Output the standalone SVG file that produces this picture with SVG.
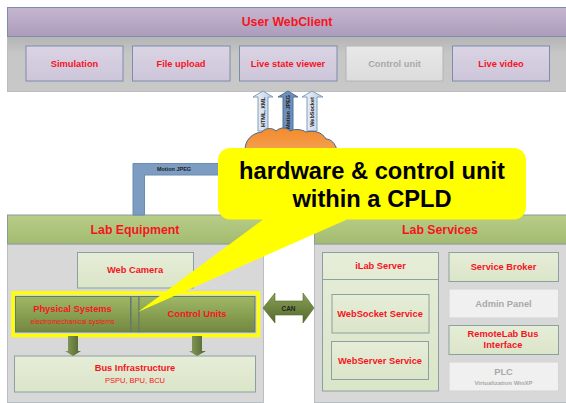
<svg xmlns="http://www.w3.org/2000/svg" width="566" height="403" viewBox="0 0 566 403">
<style>
text{font-family:"Liberation Sans",Arial,sans-serif;font-weight:bold;fill:#f5141e;text-anchor:middle}
.t{font-size:9.300px}.h{font-size:12.300px}.g{fill:#a9a9a9}.s{font-size:7px;font-weight:normal}
.p{fill:url(#pb);stroke:#7d8cab;stroke-width:1}.pg{fill:url(#gb);stroke:#b4b4b4;stroke-width:1}
.l{fill:url(#lg);stroke:#8ba0a0;stroke-width:1}.w{fill:#f0f0f0;stroke:#d4d4d4;stroke-width:1}
.d{fill:url(#dg);stroke:#5f7a70;stroke-width:1}
.hp{fill:url(#hg);stroke:#8b9aa0;stroke-width:1}
.a{fill:url(#ab);stroke:#7f9fbf;stroke-width:1}.m{fill:#6d8fb8;stroke:#4f719a;stroke-width:1}
.v{font-size:5.500px;fill:#222}
.ga{fill:url(#da);stroke:none}
</style>
<defs>
<linearGradient id="pu" x1="0" y1="0" x2="0" y2="1"><stop offset="0" stop-color="#c5b6d0"/><stop offset="1" stop-color="#ab9dbb"/></linearGradient>
<linearGradient id="gp" x1="0" y1="0" x2="0" y2="1"><stop offset="0" stop-color="#b4b4b4"/><stop offset=".3" stop-color="#c6c6c6"/><stop offset="1" stop-color="#c8c8c8"/></linearGradient>
<linearGradient id="pb" x1="0" y1="0" x2="0" y2="1"><stop offset="0" stop-color="#dbd4e4"/><stop offset="1" stop-color="#cdc5d9"/></linearGradient>
<linearGradient id="gb" x1="0" y1="0" x2="0" y2="1"><stop offset="0" stop-color="#e8e8e8"/><stop offset="1" stop-color="#dcdcdc"/></linearGradient>
<linearGradient id="hg" x1="0" y1="0" x2="0" y2="1"><stop offset="0" stop-color="#b8cd88"/><stop offset="1" stop-color="#a3bb70"/></linearGradient>
<linearGradient id="lg" x1="0" y1="0" x2="0" y2="1"><stop offset="0" stop-color="#e6edd8"/><stop offset="1" stop-color="#dbe5c8"/></linearGradient>
<linearGradient id="dg" x1="0" y1="0" x2="0" y2="1"><stop offset="0" stop-color="#9fb865"/><stop offset="1" stop-color="#72883f"/></linearGradient>
<linearGradient id="ab" x1="0" y1="0" x2="1" y2="0"><stop offset="0" stop-color="#f2f5fa"/><stop offset="1" stop-color="#bccde3"/></linearGradient>
<linearGradient id="da" x1="0" y1="0" x2="1" y2="0"><stop offset="0" stop-color="#8a9f5a"/><stop offset="1" stop-color="#4f6430"/></linearGradient>
<linearGradient id="ca" x1="0" y1="0" x2="0" y2="1"><stop offset="0" stop-color="#8aa055"/><stop offset="1" stop-color="#536a2c"/></linearGradient>
<linearGradient id="or" x1="0" y1="0" x2="0" y2="1"><stop offset="0" stop-color="#f58a2a"/><stop offset="1" stop-color="#f2a050"/></linearGradient>
</defs>
<rect width="566" height="403" fill="#fff"/>

<g id="user-webclient">
<rect x="7.500" y="37" width="559" height="54.500" fill="url(#gp)" stroke="#bcbcbc"/>
<rect x="7.500" y="7.500" width="559" height="29" fill="url(#pu)" stroke="#7d8cab"/>
<text class="h" x="287" y="26">User WebClient</text>
</g>
<g id="simulation"><rect class="p" x="26" y="46" width="97" height="35"/><text class="t" x="74.500" y="66.500">Simulation</text></g>
<g id="file-upload"><rect class="p" x="132.500" y="46" width="97.500" height="35"/><text class="t" x="181" y="66.500">File upload</text></g>
<g id="live-state-viewer"><rect class="p" x="239.500" y="46" width="97.500" height="35"/><text class="t" x="288" y="66.500">Live state viewer</text></g>
<g id="control-unit"><rect class="pg" x="346" y="46" width="97" height="35"/><text class="t g" x="394.500" y="66.500">Control unit</text></g>
<g id="live-video"><rect class="p" x="452.500" y="46" width="97" height="35"/><text class="t" x="501" y="66.500">Live video</text></g>

<g id="lab-equipment">
<rect x="7.500" y="244" width="256" height="158.500" fill="#d8d8d8" stroke="#b8bec2"/>
<rect class="hp" x="7.500" y="215" width="256" height="29"/>
<text class="h" x="135" y="233.500">Lab Equipment</text>
</g>
<g id="web-camera"><rect class="l" x="77.500" y="252.500" width="116" height="35.500"/><text class="t" x="135" y="273">Web Camera</text></g>
<g id="fpga-highlight">
<rect x="13" y="293" width="245.500" height="42.500" fill="none" stroke="#ffff00" stroke-width="3.500"/>
<rect x="131" y="296.500" width="8" height="35.500" fill="url(#dg)" stroke="#5f7a70" stroke-width="1"/>
</g>
<g id="physical-systems"><rect class="d" x="15.500" y="296.500" width="115" height="35.500"/><text class="t" x="72.500" y="312">Physical Systems</text><text class="s" x="72.500" y="323.500">electromechanical systems</text></g>
<g id="control-units"><rect class="d" x="139" y="296.500" width="116" height="35.500"/><text class="t" x="197" y="317">Control Units</text></g>
<g id="bus-infrastructure"><rect class="l" x="14.500" y="356" width="241" height="36"/><text class="t" x="135" y="371">Bus Infrastructure</text><text class="s" x="135" y="382.500" style="font-size:7.500px">PSPU, BPU, BCU</text></g>

<g id="lab-services">
<rect x="314.500" y="244" width="252" height="158.500" fill="#d8d8d8" stroke="#b8bec2"/>
<rect class="hp" x="314.500" y="215" width="252" height="29"/>
<text class="h" x="440" y="233.500">Lab Services</text>
</g>
<g id="ilab-server"><rect class="l" x="322.500" y="252.500" width="116" height="138.500"/><path d="M322.500 279.500H438.500" stroke="#8ba0a0" stroke-width="1" fill="none"/><text class="t" x="380.500" y="269">iLab Server</text></g>
<g id="websocket-service"><rect class="l" x="332" y="294.500" width="97" height="38.500"/><text class="t" x="380" y="316.500">WebSocket Service</text></g>
<g id="webserver-service"><rect class="l" x="331.500" y="341.500" width="97" height="38"/><text class="t" x="380" y="363.500">WebServer Service</text></g>
<g id="service-broker"><rect class="l" x="449" y="252.500" width="109.500" height="29"/><text class="t" x="503.500" y="270">Service Broker</text></g>
<g id="admin-panel"><rect class="w" x="449" y="289" width="109.500" height="29"/><text class="t g" x="503.500" y="306.500">Admin Panel</text></g>
<g id="remotelab-bus"><rect class="l" x="449" y="325.500" width="109.500" height="29"/><text class="t" x="503" y="337">RemoteLab Bus</text><text class="t" x="503" y="348">Interface</text></g>
<g id="plc"><rect class="w" x="449" y="362" width="109.500" height="29"/><text class="t g" x="503.500" y="375">PLC</text><text class="s g" x="503.500" y="384.500" style="font-size:6px;font-weight:bold">Virtualization WinXP</text></g>

<g id="connectors">
<path d="M133 215V163.500H222V175H144.500V215Z" fill="#7c9cc2" stroke="#6a8ab0" stroke-width="1"/>
<text class="v" x="174" y="171">Motion JPEG</text>
<path class="a" d="M258 131V97H253L263 91L273 97H268V131Z"/>
<text class="v" transform="translate(265,112) rotate(-90)">HTML, XML</text>
<path class="m" d="M283 131V97H278L288 91L298 97H293V131Z"/>
<text class="v" transform="translate(290,112) rotate(-90)">Motion JPEG</text>
<path class="a" d="M307 131V97H302L312 91L323 97H317V131Z"/>
<text class="v" transform="translate(314,112) rotate(-90)">WebSocket</text>
<path d="M263 308L275 293V301H303V293L314 308L303 323V315H275V323Z" fill="url(#ca)" stroke="#56682f" stroke-width=".6"/>
<text class="v" x="288.500" y="310.500" style="font-size:6.500px">CAN</text>
<path class="ga" d="M68 336H78V351H81L73 356L65 351H68Z"/>
<path class="ga" d="M192 336H202V351H206L197 356L189 351H192Z"/>
</g>

<g id="cloud">
<path d="M245 150C245 140 252 133 262 132C266 127 273 128 276 131C280 127 287 127 290 131C296 128 303 130 306 132C314 130 322 132 326 139C331 139 335 143 337 150Z" fill="url(#or)" stroke="#3f6a8f" stroke-width="1"/>
</g>

<g id="callout">
<path d="M230 148H514A12 12 0 0 1 526 160V207A12 12 0 0 1 514 219.500H347L138 312L263 219.500H230A12 12 0 0 1 218 207V160A12 12 0 0 1 230 148Z" fill="#ffff00"/>
<text x="372" y="178.500" style="font-size:23.700px;fill:#000">hardware &amp; control unit</text>
<text x="372" y="207" style="font-size:23.700px;fill:#000">within a CPLD</text>
</g>
</svg>
